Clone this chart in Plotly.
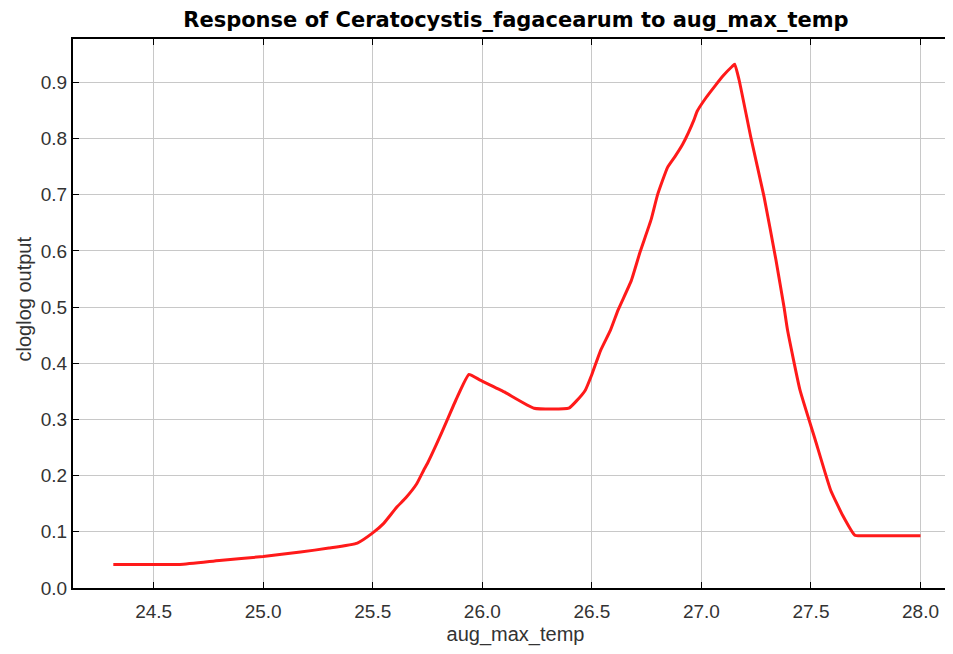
import plotly.graph_objects as go

temp = [24.316, 24.62, 24.80, 25.00, 25.17, 25.30, 25.43, 25.50, 25.55, 25.61, 25.65, 25.70,
        25.733, 25.75, 25.79, 25.84, 25.88, 25.939, 25.99, 26.10, 26.236, 26.395, 26.43, 26.47,
        26.50, 26.54, 26.585, 26.62, 26.68, 26.72, 26.77, 26.80, 26.845, 26.88, 26.915, 26.966,
        26.98, 27.02, 27.065, 27.10, 27.14, 27.152, 27.172, 27.225, 27.286,
        27.34, 27.377, 27.393, 27.45, 27.52, 27.59, 27.645, 27.70, 27.73, 27.85, 28.0]
output = [0.042, 0.042, 0.049, 0.056, 0.064, 0.071, 0.080, 0.098, 0.115, 0.144, 0.160, 0.185,
          0.210, 0.222, 0.255, 0.299, 0.335, 0.380, 0.370, 0.349, 0.320, 0.320, 0.333, 0.352,
          0.380, 0.423, 0.459, 0.495, 0.547, 0.598, 0.655, 0.700, 0.748, 0.768, 0.790, 0.833,
          0.848, 0.872, 0.895, 0.912, 0.928, 0.932, 0.904, 0.803, 0.696,
          0.584, 0.500, 0.459, 0.352, 0.263, 0.174, 0.129, 0.094, 0.093, 0.093, 0.093]

x_ticks = [24.5, 25.0, 25.5, 26.0, 26.5, 27.0, 27.5, 28.0]
y_ticks = [0.0, 0.1, 0.2, 0.3, 0.4, 0.5, 0.6, 0.7, 0.8, 0.9]

fig = go.Figure()
fig.add_trace(go.Scatter(x=temp, y=output, mode="lines", line_shape="spline",
                         line=dict(color="#ff1a1a", width=3, smoothing=0.4), showlegend=False))

fig.add_annotation(text="cloglog output", textangle=-90, xref="paper", yref="paper",
                   x=0, y=0.5255, xanchor="center", yanchor="middle", xshift=-49,
                   showarrow=False, font=dict(size=20, color="#333333"))

fig.update_layout(
    width=953, height=654,
    margin=dict(l=65, r=1, t=31, b=74),
    paper_bgcolor="white", plot_bgcolor="white",
    font=dict(family="Liberation Sans, Arial, sans-serif", color="#333333", size=19),
    title=dict(text="<b>Response of Ceratocystis_fagacearum to aug_max_temp</b>",
               x=0.533, xanchor="center", y=0.982, yanchor="middle",
               font=dict(family="DejaVu Sans, sans-serif", size=21, color="black")),
    xaxis=dict(range=[24.132, 28.171], tickvals=x_ticks,
               ticktext=[f"{v:.1f}" for v in x_ticks],
               showgrid=True, gridcolor="#c8c8c8", gridwidth=1,
               showline=True, linecolor="black", linewidth=2, mirror="ticks",
               ticks="inside", ticklen=6, tickcolor="black", zeroline=False,
               ticklabelstandoff=5,
               tickfont=dict(size=19, color="#333333"),
               title=dict(text="aug_max_temp", standoff=6, font=dict(size=20, color="#333333"))),
    yaxis=dict(range=[0, 0.977], tickvals=y_ticks,
               ticktext=[f"{v:.1f}" for v in y_ticks],
               showgrid=True, gridcolor="#c8c8c8", gridwidth=1,
               showline=True, linecolor="black", linewidth=2, mirror=True,
               ticks="inside", ticklen=6, tickcolor="black", zeroline=False,
               tickfont=dict(size=19, color="#333333")),
)

fig.write_html("out.html")
